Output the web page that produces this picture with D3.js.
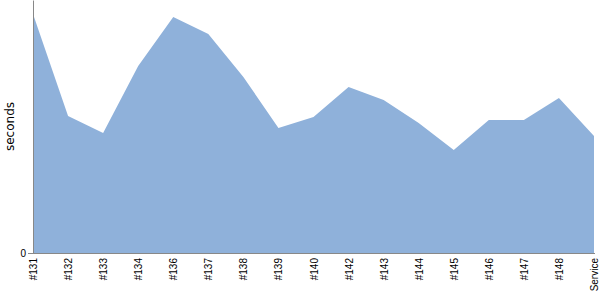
<!DOCTYPE html>
<html>
<head>
<meta charset="utf-8">
<script src="https://cdn.jsdelivr.net/npm/d3@7"></script>
<style>
  body { margin: 0; background: #fff; }
  svg { display: block; font-family: "DejaVu Sans", sans-serif; }
</style>
</head>
<body>
<svg id="chart" width="600" height="300"></svg>
<script>
// builds and their durations
const builds = ["#131", "#132", "#133", "#134", "#136", "#137", "#138", "#139", "#140",
                "#142", "#143", "#144", "#145", "#146", "#147", "#148", "Service"];
const seconds = [119.5, 68.5, 60, 93.5, 118, 109.5, 88, 62.5, 68,
                 83, 76.5, 65, 51.5, 66.5, 66.5, 77.5, 58.5];
const yTicks = [0];

const renderChart = (selector) => {
    const svg = d3.select(selector);
    const margin = {top: 0, right: 5, bottom: 47, left: 33};
    const width = +svg.attr("width"), height = +svg.attr("height");

    const x = d3.scalePoint()
        .domain(builds)
        .range([margin.left, width - margin.right - 1]);
    const y = d3.scaleLinear()
        .domain([0, 126.5])
        .range([height - margin.bottom, margin.top]);

    const area = d3.area()
        .x((d, i) => x(builds[i]))
        .y0(y(0))
        .y1(d => y(d));

    svg.append("path")
        .datum(seconds)
        .attr("d", area)
        .attr("fill", "#8fb1da");

    // y axis
    const yAxis = svg.append("g")
        .attr("transform", `translate(${margin.left},0)`)
        .call(d3.axisLeft(y).tickValues(yTicks).tickSize(5).tickSizeOuter(0));
    yAxis.select(".domain").attr("stroke", "#888");
    yAxis.selectAll(".tick line").attr("stroke", "#888");
    yAxis.selectAll(".tick text")
        .attr("font-size", 10)
        .attr("fill", "#000")
        .attr("x", -7);

    // x axis
    const xAxis = svg.append("g")
        .attr("transform", `translate(0,${y(0)})`)
        .call(d3.axisBottom(x).tickSize(0).tickSizeOuter(0));
    xAxis.select(".domain")
        .attr("stroke", "#888")
        .attr("d", `M${margin.left - 5},0.5H${width - margin.right}`);
    xAxis.selectAll(".tick text")
        .attr("font-size", 10)
        .attr("fill", "#000")
        .attr("text-anchor", "end")
        .attr("transform", "rotate(-90)")
        .attr("x", -5)
        .attr("y", 0)
        .attr("dy", "0.35em");

    svg.append("text")
        .attr("transform", `translate(14,${(margin.top + y(0)) / 2}) rotate(-90)`)
        .attr("text-anchor", "middle")
        .attr("font-size", 12)
        .text("seconds");
};

renderChart("#chart");
</script>
</body>
</html>
